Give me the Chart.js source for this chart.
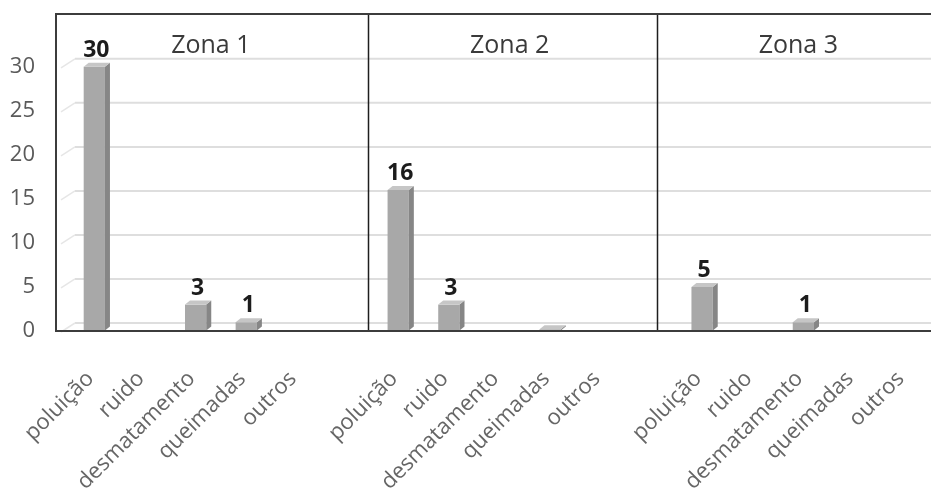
<!DOCTYPE html>
<html lang="pt">
<head>
<meta charset="utf-8">
<title>Problemas ambientais por zona</title>
<script src="https://cdn.jsdelivr.net/npm/chart.js@4.4.1/dist/chart.umd.min.js"></script>
<style>
  html, body { margin: 0; padding: 0; background: #fff; overflow: hidden; }
  #wrap { width: 931px; height: 500px; position: relative; }
</style>
</head>
<body>
<div id="wrap"><canvas id="zonasChart"></canvas></div>
<script>
// --- DADOS ---
const problemas = ['poluição', 'ruido', 'desmatamento', 'queimadas', 'outros'];
const zonas = ['Zona 1', 'Zona 2', 'Zona 3'];
const zona1 = [30, 0, 3, 1, 0];
const zona2 = [16, 3, 0, 0.2, 0];
const zona3 = [5, 0, 1, 0, 0];
const yTicks = [0, 5, 10, 15, 20, 25, 30];

// eixo x: as tres zonas em sequencia, com uma coluna vazia entre elas
const labels = [...problemas, '', ...problemas, '', ...problemas];
const valores = [...zona1, null, ...zona2, null, ...zona3];

// linhas entre zonas e titulos (em unidades de categoria)
const divisorias = [5.4, 11.1];
const tituloPos = [2.3, 8.2, 13.9];

const FONTE = '"Open Sans", "DejaVu Sans", sans-serif';
const PROF = 5;      // profundidade do efeito 3D das barras
const PAREDE_DY = 8; // deslocamento da parede do fundo

// fundo "3D": linhas de grade na parede do fundo + diagonais do piso
const paredePlugin = {
    id: 'parede',
    beforeDatasetsDraw(chart) {
        const { ctx, chartArea, scales } = chart;
        const y = scales.y, x = scales.x;
        ctx.save();
        yTicks.forEach(v => {
            const py = y.getPixelForValue(v);
            ctx.strokeStyle = '#dedede';
            ctx.lineWidth = 2;
            ctx.beginPath();
            ctx.moveTo(chartArea.left + 6, py - PAREDE_DY);
            ctx.lineTo(chart.width + 2, py - PAREDE_DY);
            ctx.stroke();
            ctx.strokeStyle = '#e6e6e6';
            ctx.lineWidth = 1.5;
            ctx.beginPath();
            ctx.moveTo(chartArea.left - 8, py + 1);
            ctx.lineTo(chartArea.left + 6, py - PAREDE_DY);
            ctx.stroke();
        });
        // separadores das zonas
        ctx.strokeStyle = '#1e1e1e';
        ctx.lineWidth = 1.5;
        divisorias.forEach(d => {
            const px = Math.round(x.getPixelForValue(d)) + 0.5;
            ctx.beginPath();
            ctx.moveTo(px, chartArea.top);
            ctx.lineTo(px, chartArea.bottom);
            ctx.stroke();
        });
        ctx.restore();
    },
    afterDatasetsDraw(chart) {
        const { ctx, chartArea, scales } = chart;
        const meta = chart.getDatasetMeta(0);
        ctx.save();
        meta.data.forEach((bar, i) => {
            if (!valores[i]) return;
            const p = bar.getProps(['x', 'y', 'base', 'width'], true);
            const l = p.x - p.width / 2, r = p.x + p.width / 2;
            // lateral direita
            ctx.fillStyle = '#868686';
            ctx.beginPath();
            ctx.moveTo(r, p.y);
            ctx.lineTo(r + PROF, p.y - PROF + 1);
            ctx.lineTo(r + PROF, p.base - PROF + 1);
            ctx.lineTo(r, p.base);
            ctx.closePath();
            ctx.fill();
            // topo
            ctx.fillStyle = '#c6c6c6';
            ctx.beginPath();
            ctx.moveTo(l, p.y);
            ctx.lineTo(l + PROF, p.y - PROF + 1);
            ctx.lineTo(r + PROF, p.y - PROF + 1);
            ctx.lineTo(r, p.y);
            ctx.closePath();
            ctx.fill();
            // rotulo de valor
            if (valores[i] >= 1) {
                ctx.fillStyle = '#1c1c1c';
                ctx.font = 'bold 23px ' + FONTE;
                ctx.textAlign = 'center';
                ctx.textBaseline = 'bottom';
                ctx.fillText(String(valores[i]), p.x + 2, p.y - 5);
            }
        });
        // titulos das zonas
        ctx.fillStyle = '#3a3a3a';
        ctx.font = '25px ' + FONTE;
        ctx.textAlign = 'center';
        ctx.textBaseline = 'middle';
        zonas.forEach((z, k) => {
            ctx.fillText(z, scales.x.getPixelForValue(tituloPos[k]), chartArea.top + 32);
        });
        ctx.restore();
    },
    afterDraw(chart) {
        // moldura da area do grafico
        const { ctx, chartArea } = chart;
        ctx.save();
        ctx.strokeStyle = '#3c3c3c';
        ctx.lineWidth = 2;
        ctx.beginPath();
        ctx.moveTo(chart.width + 2, chartArea.top);
        ctx.lineTo(chartArea.left - 13, chartArea.top);
        ctx.lineTo(chartArea.left - 13, chartArea.bottom);
        ctx.lineTo(chart.width + 2, chartArea.bottom);
        ctx.stroke();
        ctx.restore();
    }
};

const ctx = document.getElementById('zonasChart').getContext('2d');
const zonasChart = new Chart(ctx, {
    type: 'bar',
    data: {
        labels: labels,
        datasets: [{
            data: valores,
            backgroundColor: '#a8a8a8',
            borderWidth: 0,
            barPercentage: 0.42,
            categoryPercentage: 1
        }]
    },
    plugins: [paredePlugin],
    options: {
        responsive: true,
        maintainAspectRatio: false,
        animation: false,
        layout: { padding: { top: 14, right: 1, left: 0, bottom: 0 } },
        plugins: {
            legend: { display: false },
            tooltip: { enabled: false }
        },
        scales: {
            x: {
                grid: { display: false, drawTicks: false },
                border: { display: false },
                ticks: {
                    autoSkip: false,
                    minRotation: 45,
                    maxRotation: 45,
                    padding: 35,
                    labelOffset: -4,
                    color: '#666',
                    font: { family: FONTE, size: 22 }
                },
                afterFit(scale) {
                    scale.height = 169;
                    // os rotulos inclinados nao devem encolher a area do grafico
                    scale.paddingLeft = 0;
                    scale.paddingRight = 0;
                }
            },
            y: {
                min: 0,
                max: 36,
                // a distancia dos numeros ao eixo vem do tickLength (transparente),
                // assim o padding nao empurra o topo do grafico para baixo
                grid: { color: 'transparent', drawTicks: true, tickLength: 34, tickColor: 'transparent' },
                border: { display: false },
                ticks: {
                    padding: 0,
                    color: '#5a5a5a',
                    font: { family: FONTE, size: 22 }
                },
                afterBuildTicks(scale) { scale.ticks = yTicks.map(v => ({ value: v })); },
                afterFit(scale) { scale.width = 69; }
            }
        }
    }
});
</script>
</body>
</html>
